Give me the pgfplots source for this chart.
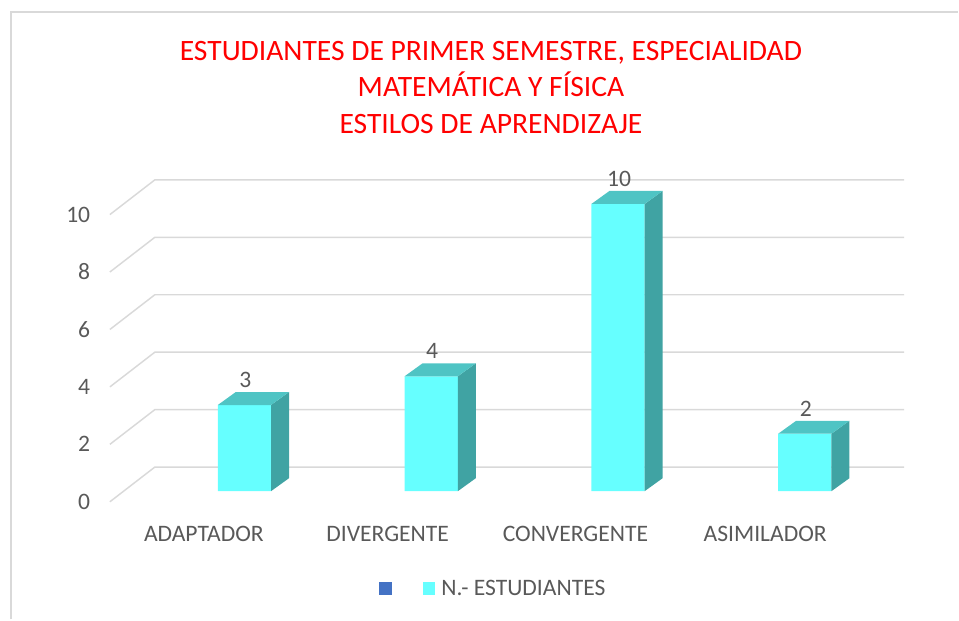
\documentclass[border=0pt]{standalone}
\usepackage{pgfplots}
\pgfplotsset{compat=1.18}
\usepackage{fontspec}
\setmainfont{Carlito}
\definecolor{barfront}{HTML}{66FFFF}
\definecolor{bartop}{HTML}{4FC4C4}
\definecolor{barside}{HTML}{40A3A3}
\definecolor{gridc}{HTML}{D9D9D9}
\definecolor{txt}{HTML}{595959}
\definecolor{legblue}{HTML}{4472C4}
\pgfplotsset{sqleg/.style={legend image code/.code={\fill[##1] (0pt,-4.9pt) rectangle (9.75pt,4.9pt);}}}
\newcommand{\lblfont}{\fontsize{17.7}{21}\selectfont}
\begin{document}
\begin{tikzpicture}
\begin{axis}[
  scale only axis, width=719.25pt, height=465pt,
  xmin=-1.0963, xmax=4.0321, ymin=-4.4626, ymax=17.1026,
  clip=false,
  axis line style={draw=none},
  major tick length=0pt,
  tick style={draw=none},
  xtick={-0.005,0.979,1.984,3.0},
  xticklabels={ADAPTADOR,DIVERGENTE,CONVERGENTE,ASIMILADOR},
  ytick={-0.369,1.631,3.631,5.631,7.631,9.631},
  yticklabels={0,2,4,6,8,10},
  xticklabel style={anchor=base, inner sep=0pt, yshift=58.7pt, font=\lblfont, text=txt},
  yticklabel style={anchor=east, inner sep=0pt, xshift=67.9pt, font=\lblfont, text=txt},
  /pgf/number format/assume math mode=true,
  legend columns=2,
  legend style={at={(axis cs:0.9305,-3.395)}, anchor=west, draw=none, fill=none, inner sep=0pt,
    nodes={inner sep=0pt, text=txt, font=\lblfont},
    /tikz/every odd column/.append style={column sep=4.5pt},
    /tikz/every even column/.append style={column sep=17.5pt}},
]
% chart border
\draw[gridc, line width=1.5pt] (axis cs:-1.0348,-4.4626) -- (axis cs:-1.0348,16.668) -- (axis cs:4.0321,16.668);
% title
\node[align=center, text=red, font=\fontsize{22.2}{27.2}\selectfont] at (axis cs:1.532,14.06)
  {ESTUDIANTES DE PRIMER SEMESTRE, ESPECIALIDAD\\MATEMÁTICA Y FÍSICA\\ESTILOS DE APRENDIZAJE};
% gridlines (floor front edge, back wall)
\draw[gridc, line width=1.1pt] (axis cs:-0.508,-0.369) -- (axis cs:-0.2674,0.84) -- (axis cs:3.7433,0.84);
\draw[gridc, line width=1.1pt] (axis cs:-0.508,1.631) -- (axis cs:-0.2674,2.84) -- (axis cs:3.7433,2.84);
\draw[gridc, line width=1.1pt] (axis cs:-0.508,3.631) -- (axis cs:-0.2674,4.84) -- (axis cs:3.7433,4.84);
\draw[gridc, line width=1.1pt] (axis cs:-0.508,5.631) -- (axis cs:-0.2674,6.84) -- (axis cs:3.7433,6.84);
\draw[gridc, line width=1.1pt] (axis cs:-0.508,7.631) -- (axis cs:-0.2674,8.84) -- (axis cs:3.7433,8.84);
\draw[gridc, line width=1.1pt] (axis cs:-0.508,9.631) -- (axis cs:-0.2674,10.84) -- (axis cs:3.7433,10.84);

\addlegendimage{sqleg, fill=legblue, draw=none}
\addlegendentry{}

% front faces
\addplot[ybar, bar width=0.285, fill=barfront, draw=none, sqleg,
  nodes near coords,
  every node near coord/.append style={anchor=center, yshift=19pt, xshift=0.75pt, font=\lblfont, text=txt}]
  coordinates {(0.212,3) (1.212,4) (2.212,10) (3.212,2)};
\addlegendentry{N.- ESTUDIANTES}

% side faces
\addplot[fill=barside, draw=none, forget plot] coordinates {(0.3545,0) (0.4508,0.452) (0.4508,3.452) (0.3545,3)} -- cycle;
\addplot[fill=barside, draw=none, forget plot] coordinates {(1.3545,0) (1.4508,0.452) (1.4508,4.452) (1.3545,4)} -- cycle;
\addplot[fill=barside, draw=none, forget plot] coordinates {(2.3545,0) (2.4508,0.452) (2.4508,10.452) (2.3545,10)} -- cycle;
\addplot[fill=barside, draw=none, forget plot] coordinates {(3.3545,0) (3.4508,0.452) (3.4508,2.452) (3.3545,2)} -- cycle;
% top faces
\addplot[fill=bartop, draw=none, forget plot] coordinates {(0.0695,3) (0.3545,3) (0.4508,3.452) (0.1658,3.452)} -- cycle;
\addplot[fill=bartop, draw=none, forget plot] coordinates {(1.0695,4) (1.3545,4) (1.4508,4.452) (1.1658,4.452)} -- cycle;
\addplot[fill=bartop, draw=none, forget plot] coordinates {(2.0695,10) (2.3545,10) (2.4508,10.452) (2.1658,10.452)} -- cycle;
\addplot[fill=bartop, draw=none, forget plot] coordinates {(3.0695,2) (3.3545,2) (3.4508,2.452) (3.1658,2.452)} -- cycle;
\end{axis}
\end{tikzpicture}
\end{document}
